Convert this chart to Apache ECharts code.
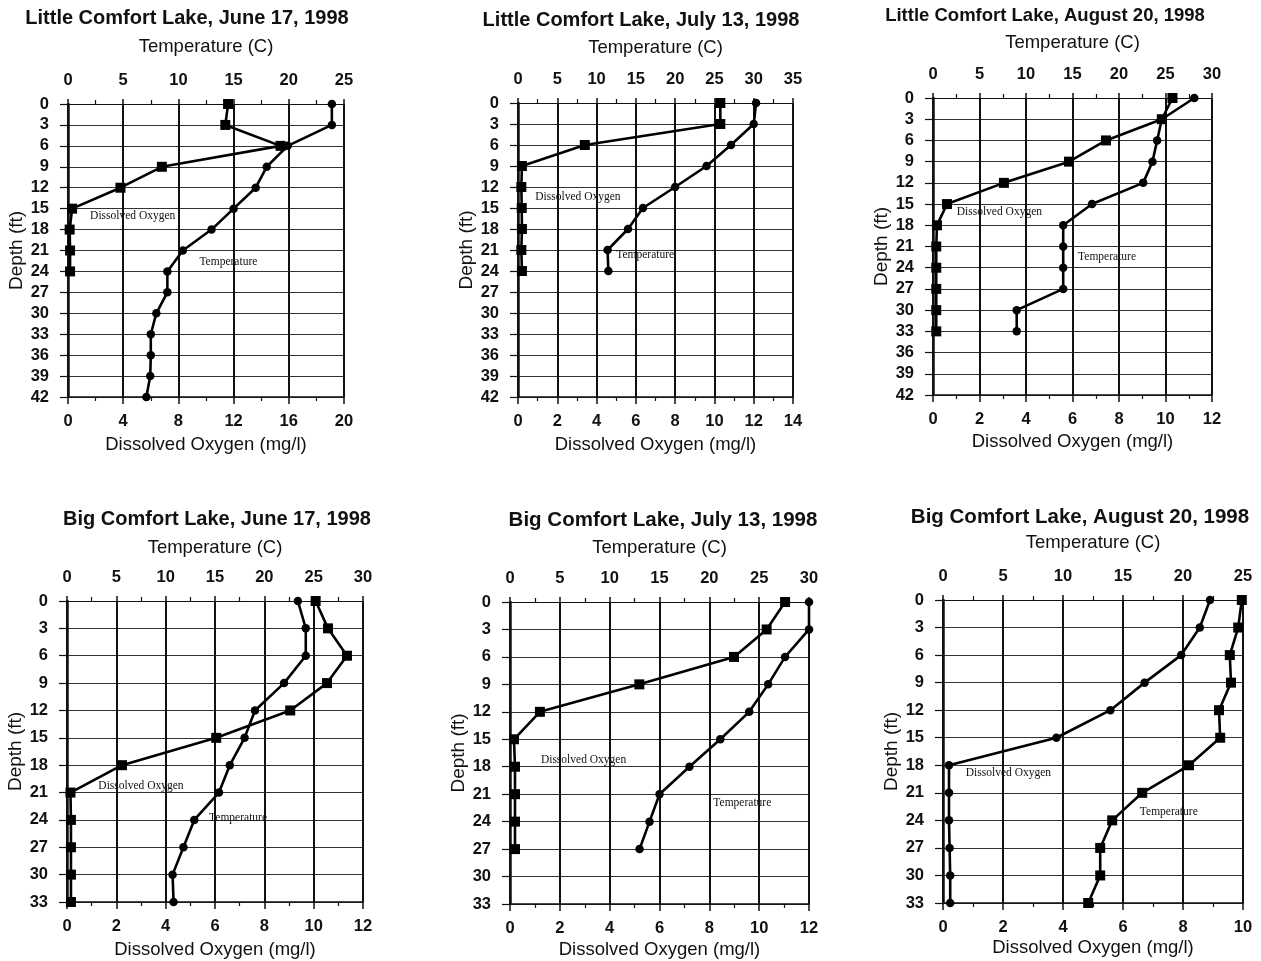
<!DOCTYPE html>
<html><head><meta charset="utf-8">
<script src="https://cdn.jsdelivr.net/npm/echarts@6/dist/echarts.min.js"></script>
<style>html,body{margin:0;padding:0;background:#fff}#c{width:1261px;height:961px}</style>
</head><body><div id="c"></div>
<script>
// ---------- DATA ----------
const titles = [
  'Little Comfort Lake, June 17, 1998',
  'Little Comfort Lake, July 13, 1998',
  'Little Comfort Lake, August 20, 1998',
  'Big Comfort Lake, June 17, 1998',
  'Big Comfort Lake, July 13, 1998',
  'Big Comfort Lake, August 20, 1998'
];
// Little Comfort Lake, June 17
const lcJunDepthDO = [0, 3, 6, 9, 12, 15, 18, 21, 24];
const lcJunDO = [11.6, 11.4, 15.4, 6.8, 3.8, 0.3, 0.12, 0.15, 0.15];
const lcJunDepthT = [0, 3, 6, 9, 12, 15, 18, 21, 24, 27, 30, 33, 36, 39, 42];
const lcJunTemp = [23.9, 23.9, 19.9, 18.0, 17.0, 15.0, 13.0, 10.4, 9.0, 9.0, 8.0, 7.5, 7.5, 7.45, 7.1];
// Little Comfort Lake, July 13
const lcJulDepth = [0, 3, 6, 9, 12, 15, 18, 21, 24];
const lcJulDO = [10.3, 10.3, 3.4, 0.2, 0.17, 0.19, 0.2, 0.17, 0.2];
const lcJulTemp = [30.3, 30.0, 27.1, 24.0, 20.0, 15.9, 14.0, 11.4, 11.5];
// Little Comfort Lake, August 20
const lcAugDepth = [0, 3, 6, 9, 12, 15, 18, 21, 24, 27, 30, 33];
const lcAugDO = [10.3, 9.84, 7.44, 5.85, 3.05, 0.6, 0.17, 0.14, 0.14, 0.14, 0.14, 0.14];
const lcAugTemp = [28.1, 24.6, 24.1, 23.6, 22.6, 17.1, 14.0, 14.0, 14.0, 14.0, 9.0, 9.0];
// Big Comfort Lake, June 17
const bcJunDepth = [0, 3, 6, 9, 12, 15, 18, 21, 24, 27, 30, 33];
const bcJunDO = [10.08, 10.58, 11.35, 10.54, 9.05, 6.05, 2.23, 0.14, 0.16, 0.16, 0.16, 0.16];
const bcJunTemp = [23.4, 24.2, 24.2, 22.0, 19.05, 18.0, 16.5, 15.4, 12.9, 11.8, 10.7, 10.8];
// Big Comfort Lake, July 13
const bcJulDepth = [0, 3, 6, 9, 12, 15, 18, 21, 24, 27];
const bcJulDO = [11.04, 10.3, 8.99, 5.19, 1.2, 0.16, 0.2, 0.2, 0.2, 0.2];
const bcJulTemp = [30.0, 30.0, 27.6, 25.9, 24.0, 21.1, 18.0, 15.0, 14.0, 13.0];
// Big Comfort Lake, August 20
const bcAugDepth = [0, 3, 6, 9, 12, 15, 18, 21, 24, 27, 30, 33];
const bcAugDO = [8.9, 8.56, 7.94, 6.72, 5.58, 3.78, 0.2, 0.2, 0.2, 0.22, 0.24, 0.24];
const bcAugTemp = [24.9, 24.6, 23.9, 24.0, 23.0, 23.1, 20.5, 16.6, 14.1, 13.1, 13.1, 12.1];

// ---------- LAYOUT / STYLE ----------
const panels = [
  {grid:{left:68,top:104,width:276,height:293}, doMax:20, doInt:4, tMax:25, dMax:42,
   dDO:lcJunDepthDO, vDO:lcJunDO, dT:lcJunDepthT, vT:lcJunTemp, sDO:'rect', sT:'circle',
   aDO:[1.6,16.1], aT:[11.9,22.6], title:{x:187,y:18,size:20}, gTop:48, gBot:38, gLeft:35},
  {grid:{left:518,top:103,width:275,height:294}, doMax:14, doInt:2, tMax:35, dMax:42,
   dDO:lcJulDepth, vDO:lcJulDO, dT:lcJulDepth, vT:lcJulTemp, sDO:'rect', sT:'circle',
   aDO:[0.88,13.4], aT:[12.5,21.7], title:{x:641,y:20,size:20}, gTop:46, gBot:38, gLeft:38},
  {grid:{left:933,top:98,width:279,height:297}, doMax:12, doInt:2, tMax:30, dMax:42,
   dDO:lcAugDepth, vDO:lcAugDO, dT:lcAugDepth, vT:lcAugTemp, sDO:'rect', sT:'circle',
   aDO:[1.02,16.1], aT:[15.6,22.5], title:{x:1045,y:16,size:18.5}, gTop:46, gBot:37, gLeft:36},
  {grid:{left:67,top:601,width:296,height:301}, doMax:12, doInt:2, tMax:30, dMax:33,
   dDO:bcJunDepth, vDO:bcJunDO, dT:bcJunDepth, vT:bcJunTemp, sDO:'rect', sT:'circle',
   aDO:[1.27,20.3], aT:[14.4,23.8], title:{x:217,y:519,size:20}, gTop:44, gBot:38, gLeft:38},
  {grid:{left:510,top:602,width:299,height:302}, doMax:12, doInt:2, tMax:30, dMax:33,
   dDO:bcJulDepth, vDO:bcJulDO, dT:bcJulDepth, vT:bcJulTemp, sDO:'rect', sT:'circle',
   aDO:[1.24,17.3], aT:[20.4,22.0], title:{x:663,y:520,size:20.5}, gTop:45, gBot:36, gLeft:36},
  {grid:{left:943,top:600,width:300,height:303}, doMax:10, doInt:2, tMax:25, dMax:33,
   dDO:bcAugDepth, vDO:bcAugDO, dT:bcAugDepth, vT:bcAugTemp, sDO:'circle', sT:'rect',
   aDO:[0.76,18.8], aT:[16.4,23.1], title:{x:1080,y:517,size:20.5}, gTop:48, gBot:35, gLeft:36}
];

const SANS = 'Liberation Sans, Arial, Helvetica, sans-serif';
const SERIF = 'Liberation Serif, Times New Roman, serif';
const INK = '#111';
const tickLbl = {color: INK, fontFamily: SANS, fontWeight: 'bold', fontSize: 16.5};
const nameStyle = {color: INK, fontFamily: SANS, fontSize: 18.5};
const annoLabel = (txt) => ({show:true, position:'right', distance:0, formatter:txt,
  color: INK, fontFamily: SERIF, fontSize: 11.5});

const grids = [], xAxes = [], yAxes = [], series = [], graphics = [];
panels.forEach((p, i) => {
  grids.push(Object.assign({}, p.grid));
  // bottom: dissolved oxygen
  xAxes.push({
    gridIndex: i, type: 'value', position: 'bottom', min: 0, max: p.doMax, interval: p.doInt,
    name: 'Dissolved Oxygen (mg/l)', nameLocation: 'middle', nameGap: p.gBot, nameTextStyle: nameStyle,
    axisLine: {show: true, onZero: false, lineStyle: {color: INK, width: 1.5}},
    axisTick: {show: true, length: 7, lineStyle: {color: INK, width: 1.5}},
    minorTick: {show: true, splitNumber: 2, length: 4, lineStyle: {color: INK, width: 1.2}},
    axisLabel: Object.assign({margin: 16}, tickLbl),
    splitLine: {show: true, lineStyle: {color: INK, width: 2}}
  });
  // top: temperature
  xAxes.push({
    gridIndex: i, type: 'value', position: 'top', min: 0, max: p.tMax, interval: 5,
    name: 'Temperature (C)', nameLocation: 'middle', nameGap: p.gTop, nameTextStyle: nameStyle,
    axisLine: {show: true, onZero: false, lineStyle: {color: INK, width: 1.2}},
    axisTick: {show: true, length: 5, lineStyle: {color: INK, width: 1.5}},
    minorTick: {show: true, splitNumber: 2, length: 4, lineStyle: {color: INK, width: 1.2}},
    axisLabel: Object.assign({margin: 15}, tickLbl),
    splitLine: {show: false}
  });
  yAxes.push({
    gridIndex: i, type: 'value', inverse: true, min: 0, max: p.dMax, interval: 3,
    name: 'Depth (ft)', nameLocation: 'middle', nameGap: p.gLeft, nameRotate: 90,
    nameTextStyle: Object.assign({}, nameStyle, {fontSize: 19}),
    axisLine: {show: true, onZero: false, lineStyle: {color: INK, width: 2.5}},
    axisTick: {show: true, length: 8, lineStyle: {color: INK, width: 1.2}},
    axisLabel: Object.assign({margin: 19}, tickLbl),
    splitLine: {show: true, lineStyle: {color: '#333', width: 1}}
  });
  series.push({
    type: 'line', name: 'Dissolved Oxygen', xAxisIndex: 2 * i, yAxisIndex: i,
    data: p.dDO.map((d, k) => [p.vDO[k], d]),
    symbol: p.sDO, symbolSize: p.sDO === 'rect' ? 10 : 8.5,
    lineStyle: {color: '#000', width: 2.6}, itemStyle: {color: '#000'},
    markPoint: {symbol: 'circle', symbolSize: 0, silent: true,
      data: [{coord: p.aDO, label: annoLabel('Dissolved Oxygen')}]}
  });
  series.push({
    type: 'line', name: 'Temperature', xAxisIndex: 2 * i + 1, yAxisIndex: i,
    data: p.dT.map((d, k) => [p.vT[k], d]),
    symbol: p.sT, symbolSize: p.sT === 'rect' ? 10 : 8.5,
    lineStyle: {color: '#000', width: 2.6}, itemStyle: {color: '#000'},
    markPoint: {symbol: 'circle', symbolSize: 0, silent: true,
      data: [{coord: p.aT, label: annoLabel('Temperature')}]}
  });
  graphics.push({
    type: 'text', x: p.title.x, y: p.title.y,
    style: {text: titles[i], fill: INK, font: 'bold ' + p.title.size + 'px ' + SANS,
      textAlign: 'center', textVerticalAlign: 'middle'}
  });
});

const chart = echarts.init(document.getElementById('c'), null, {renderer: 'canvas'});
chart.setOption({
  animation: false,
  backgroundColor: '#fff',
  grid: grids, xAxis: xAxes, yAxis: yAxes, series: series,
  graphic: graphics
});
</script></body></html>
